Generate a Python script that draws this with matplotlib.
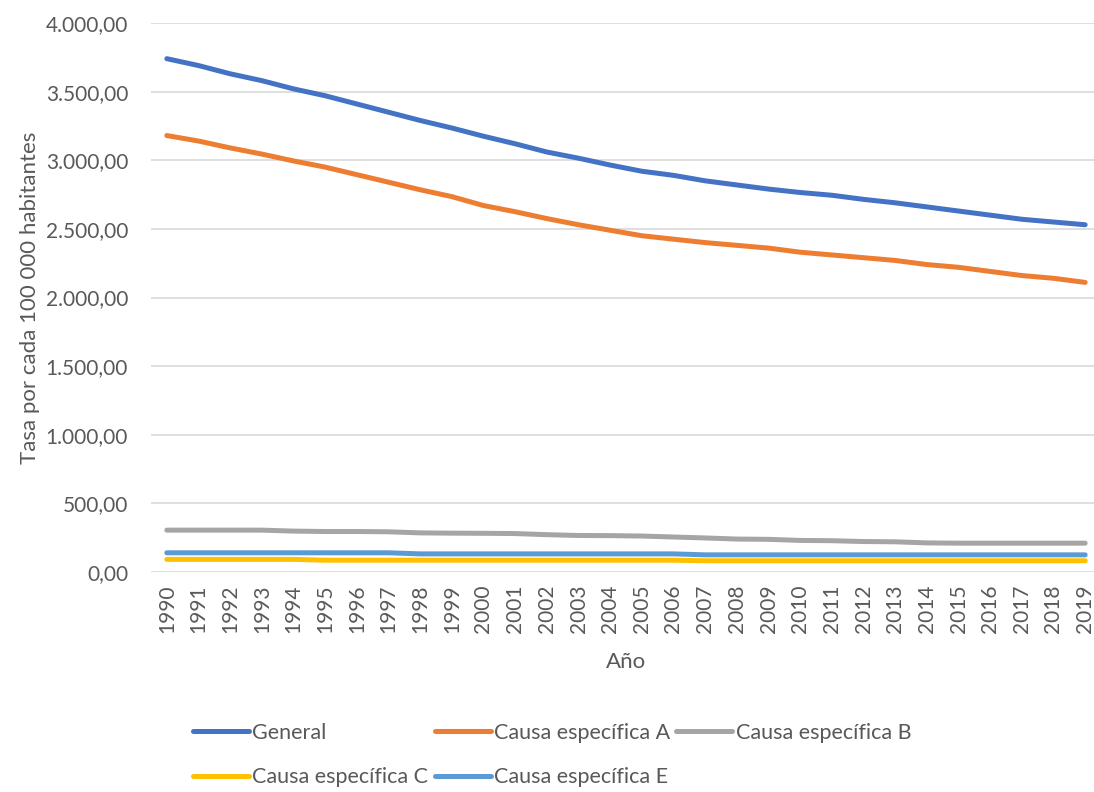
import matplotlib.pyplot as plt
from matplotlib.ticker import FuncFormatter

plt.rcParams['font.family'] = ['Lato', 'DejaVu Sans']

years = list(range(1990, 2020))

general = [3740, 3690, 3630, 3580, 3520, 3470, 3410, 3350, 3290, 3235,
           3175, 3120, 3060, 3015, 2965, 2920, 2890, 2850, 2820, 2790,
           2765, 2745, 2715, 2690, 2660, 2630, 2600, 2570, 2550, 2530]
causa_a = [3180, 3140, 3090, 3045, 2995, 2950, 2895, 2840, 2785, 2735,
           2670, 2625, 2575, 2530, 2490, 2450, 2425, 2400, 2380, 2360,
           2330, 2310, 2290, 2270, 2240, 2220, 2190, 2160, 2140, 2110]
causa_b = [305, 305, 305, 305, 298, 295, 295, 293, 285, 283,
           282, 280, 272, 266, 265, 262, 255, 248, 240, 238,
           230, 228, 222, 220, 212, 210, 210, 210, 210, 210]
causa_c = [92, 92, 92, 92, 92, 86, 86, 86, 86, 86,
           86, 86, 86, 86, 86, 86, 86, 82, 82, 82,
           82, 82, 82, 82, 82, 82, 82, 82, 82, 82]
causa_e = [140, 140, 140, 140, 140, 140, 140, 140, 132, 132,
           132, 132, 132, 132, 132, 132, 132, 125, 125, 125,
           125, 125, 125, 125, 125, 125, 125, 125, 125, 125]

series = [
    ('General', general, '#4472C4'),
    ('Causa específica A', causa_a, '#ED7D31'),
    ('Causa específica B', causa_b, '#A5A5A5'),
    ('Causa específica C', causa_c, '#FFC000'),
    ('Causa específica E', causa_e, '#5B9BD5'),
]

text_color = '#595959'

fig = plt.figure(figsize=(10.94, 7.92), dpi=100)
ax = fig.add_axes([151 / 1094, 1 - 572 / 792, 950 / 1094, 549 / 792])

x = list(range(len(years)))
lines = {}
for name, vals, color in series:
    ln, = ax.plot(x, vals, color=color, linewidth=3.6, solid_capstyle='round',
                  label=name)
    lines[name] = ln

ax.set_xlim(-0.5, len(years) - 0.5)
ax.set_ylim(0, 4000)
ax.set_yticks(range(0, 4001, 500))


def fmt_es(v, pos):
    s = f'{v:,.2f}'
    return s.replace(',', 'X').replace('.', ',').replace('X', '.')


ax.yaxis.set_major_formatter(FuncFormatter(fmt_es))
ax.set_xticks(x)
ax.set_xticklabels([str(y) for y in years], rotation=90)

ax.grid(axis='y', color='#D9D9D9', linewidth=1.2)
ax.set_axisbelow(True)
for sp in ax.spines.values():
    sp.set_visible(False)
ax.tick_params(length=0, labelsize=15, colors=text_color, pad=9)
ax.tick_params(axis='y', pad=16.5)

ax.set_ylabel('Tasa por cada 100 000 habitantes', fontsize=16,
              color=text_color, labelpad=4)
ax.set_xlabel('Año', fontsize=16, color=text_color, labelpad=14)

# column-major ordering so rows read General, A, B / C, E
order = ['General', 'Causa específica C', 'Causa específica A',
         'Causa específica E', 'Causa específica B']
leg = fig.legend([lines[n] for n in order], order, ncol=3, frameon=False,
                 loc='center left', bbox_to_anchor=(193 / 1094, 1 - 755 / 792),
                 fontsize=15.5, handlelength=2.6, handletextpad=0.15,
                 columnspacing=0.3, labelspacing=1.15, borderpad=0,
                 borderaxespad=0)
for t in leg.get_texts():
    t.set_color(text_color)

fig.savefig('out.png', dpi=100)
